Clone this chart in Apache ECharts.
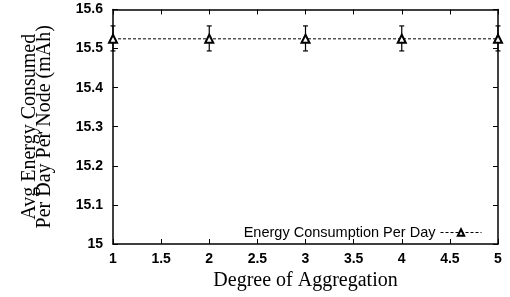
<!DOCTYPE html>
<html>
<head>
<meta charset="utf-8">
<script src="https://cdn.jsdelivr.net/npm/echarts@6/dist/echarts.min.js"></script>
<style>
  html, body { margin: 0; padding: 0; background: #fff; }
  #chart { width: 510px; height: 297px; }
</style>
</head>
<body>
<div id="chart"></div>
<script>
// values
const degrees = [1, 2, 3, 4, 5];
const energy = [15.525, 15.525, 15.525, 15.525, 15.525];
const errLow = [15.494, 15.494, 15.494, 15.494, 15.494];
const errHigh = [15.558, 15.558, 15.558, 15.558, 15.558];
const seriesName = 'Energy Consumption Per Day';

const sans = 'Liberation Sans';
const serif = 'Liberation Serif';

const chart = echarts.init(document.getElementById('chart'));

const axisLine = { show: true, lineStyle: { color: '#000', width: 1.5 } };
const axisTick = { show: true, inside: true, length: 5, lineStyle: { color: '#000', width: 1 } };
const tickFont = { fontFamily: sans, fontSize: 14, fontWeight: 'bold', color: '#000' };

const option = {
  animation: false,
  backgroundColor: '#fff',
  grid: { left: 113, right: 12, top: 9.5, bottom: 53 },
  legend: {
    data: [seriesName],
    right: 28,
    top: 225,
    padding: 0,
    align: 'right',
    itemWidth: 41,
    itemHeight: 8,
    itemStyle: { borderWidth: 1 },
    lineStyle: { width: 1, type: [3, 2] },
    textStyle: { fontFamily: sans, fontSize: 14.5, color: '#000' }
  },
  xAxis: [
    {
      type: 'value', min: 1, max: 5, interval: 0.5,
      name: 'Degree of Aggregation',
      nameLocation: 'middle',
      nameGap: 18,
      nameTextStyle: { fontFamily: serif, fontSize: 20, color: '#000' },
      axisLine: axisLine, axisTick: axisTick,
      axisLabel: Object.assign({ margin: 8 }, tickFont),
      splitLine: { show: false }
    },
    {
      type: 'value', min: 1, max: 5, interval: 0.5, position: 'top',
      axisLine: axisLine, axisTick: axisTick,
      axisLabel: { show: false }, splitLine: { show: false }
    }
  ],
  yAxis: [
    {
      type: 'value', min: 15, max: 15.6, interval: 0.1,
      name: 'Avg Energy Consumed\nPer Day Per Node (mAh)',
      nameLocation: 'middle',
      nameRotate: 90,
      nameGap: 61,
      nameTextStyle: { fontFamily: serif, fontSize: 20, lineHeight: 15, color: '#000' },
      axisLine: axisLine, axisTick: axisTick,
      axisLabel: Object.assign({ margin: 10 }, tickFont),
      splitLine: { show: false }
    },
    {
      type: 'value', min: 15, max: 15.6, interval: 0.1, position: 'right',
      axisLine: axisLine, axisTick: axisTick,
      axisLabel: { show: false }, splitLine: { show: false }
    }
  ],
  series: [
    {
      name: seriesName,
      type: 'line',
      data: degrees.map((d, i) => [d, energy[i]]),
      symbol: 'emptyTriangle',
      symbolSize: 8,
      lineStyle: { color: '#000', width: 1, type: [3, 2] },
      itemStyle: { color: '#000', borderColor: '#000', borderWidth: 1 },
      clip: false,
      z: 3
    },
    {
      name: 'err',
      type: 'custom',
      data: degrees.map((d, i) => [d, errLow[i], errHigh[i]]),
      clip: false,
      z: 2,
      renderItem: function (params, api) {
        const lo = api.coord([api.value(0), api.value(1)]);
        const hi = api.coord([api.value(0), api.value(2)]);
        const w = 2.5;
        const style = { stroke: '#000', lineWidth: 1.2 };
        return {
          type: 'group',
          children: [
            { type: 'line', shape: { x1: lo[0], y1: lo[1], x2: hi[0], y2: hi[1] }, style: style },
            { type: 'line', shape: { x1: lo[0] - w, y1: lo[1], x2: lo[0] + w, y2: lo[1] }, style: style },
            { type: 'line', shape: { x1: hi[0] - w, y1: hi[1], x2: hi[0] + w, y2: hi[1] }, style: style }
          ]
        };
      }
    }
  ]
};

chart.setOption(option);
</script>
</body>
</html>
